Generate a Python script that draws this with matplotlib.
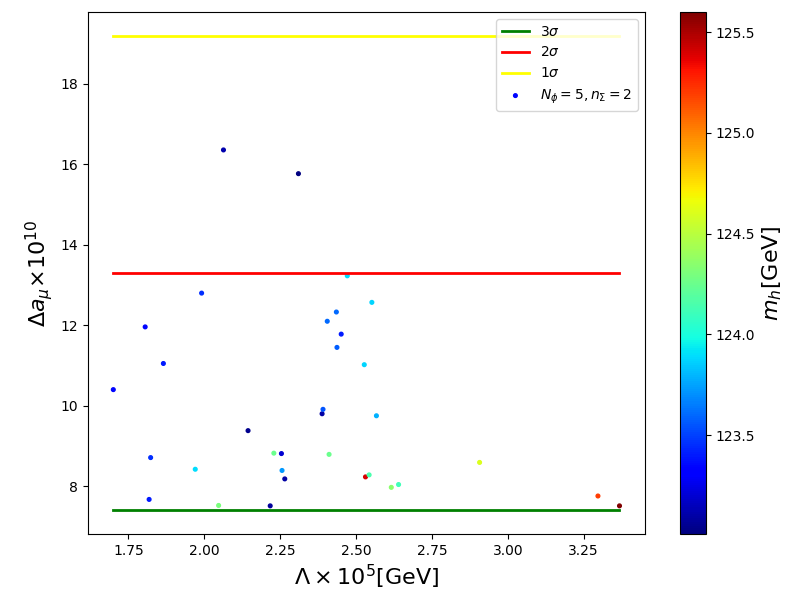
import numpy as np
import matplotlib
matplotlib.use('Agg')
import matplotlib.pyplot as plt

# scan points: Lambda (x 10^5 GeV), Delta a_mu (x 10^10), m_h (GeV)
lam = [1.700, 1.805, 1.823, 1.818, 1.865, 1.970, 1.991, 2.047, 2.063, 2.144,
       2.217, 2.229, 2.254, 2.256, 2.265, 2.310, 2.388, 2.391, 2.405, 2.411,
       2.435, 2.437, 2.451, 2.471, 2.527, 2.531, 2.543, 2.552, 2.567, 2.616,
       2.640, 2.907, 3.297, 3.368]
damu = [10.40, 11.96, 8.71, 7.67, 11.05, 8.42, 12.80, 7.52, 16.36, 9.38,
        7.51, 8.82, 8.81, 8.39, 8.18, 15.77, 9.80, 9.91, 12.10, 8.79,
        12.33, 11.45, 11.78, 13.23, 11.02, 8.23, 8.28, 12.57, 9.75, 7.97,
        8.04, 8.59, 7.755, 7.51]
mh = [123.35, 123.35, 123.45, 123.40, 123.40, 123.90, 123.45, 124.30, 123.12, 123.05,
      123.08, 124.25, 123.20, 123.72, 123.10, 123.01, 123.10, 123.55, 123.60, 124.25,
      123.60, 123.57, 123.40, 123.90, 123.88, 125.40, 124.15, 123.88, 123.78, 124.35,
      124.12, 124.60, 125.20, 125.60]

sigma3 = 7.4
sigma2 = 13.3
sigma1 = 19.2

fig = plt.figure(figsize=(8, 6), dpi=100)
ax = fig.add_axes([0.11, 0.11, 0.696, 0.87])
cax = fig.add_axes([0.85, 0.11, 0.0325, 0.87])

sc = ax.scatter(lam, damu, c=mh, cmap='jet', s=7, label=r'$N_\phi=5, n_\Sigma=2$')
xl = [min(lam), max(lam)]
l3, = ax.plot(xl, [sigma3, sigma3], color='green', lw=2, label=r'$3\sigma$')
l2, = ax.plot(xl, [sigma2, sigma2], color='red', lw=2, label=r'$2\sigma$')
l1, = ax.plot(xl, [sigma1, sigma1], color='yellow', lw=2, label=r'$1\sigma$')

ax.set_xlabel(r'$\Lambda\times10^5$[GeV]', fontsize=16)
ax.set_ylabel(r'$\Delta a_\mu$×$10^{10}$', fontsize=16)
ax.legend(handles=[l3, l2, l1, sc], loc='upper right')

cb = fig.colorbar(sc, cax=cax)
cb.set_label(r'$m_h$[GeV]', fontsize=16)

fig.savefig('out.png')
